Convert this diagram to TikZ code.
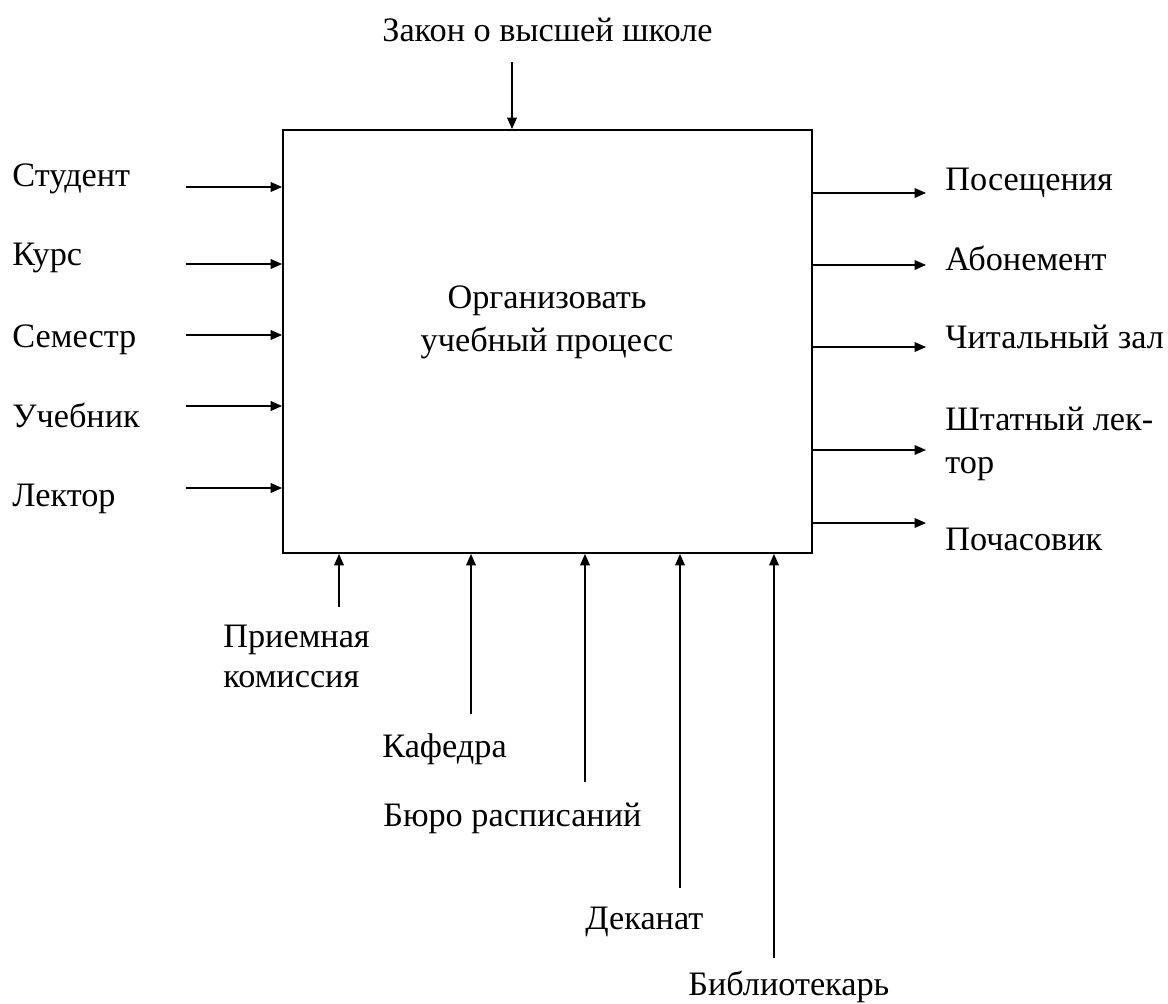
\documentclass[tikz,border=0pt]{standalone}
\usepackage{fontspec}
\setmainfont{Liberation Serif}
\usetikzlibrary{arrows.meta}

\begin{document}
\begin{tikzpicture}[x=0.02cm, y=-0.02cm,
        lbl/.style={anchor=base west, inner sep=0pt, align=left,
            font=\fontsize{19.5}{22.7}\selectfont},
        flow/.style={line width=0.8pt, -{Triangle[length=6.5pt, width=5.5pt]}}]
    \useasboundingbox (0,0) rectangle (1168,1003);

    % main activity block
    \node[draw, line width=1.1pt, minimum width=10.58cm, minimum height=8.46cm,
        inner sep=0pt] (box) at (547.5,341.5) {};
    \node[anchor=base, align=center, inner sep=0pt, font=\fontsize{19.5}{24.4}\selectfont]
        (title) at (547,351) {Организовать\\учебный процесс};

    % control
    \node[lbl] (law) at (382,42) {Закон о высшей школе};
    \coordinate (c1) at (512,62);
    \draw[flow] (c1) -- (c1 |- box.north);

    % inputs
    \node[lbl] (student) at (12,187) {Студент};
    \node[lbl] (course)  at (12,265) {Курс};
    \node[lbl] (term)    at (12,347) {Семестр};
    \node[lbl] (book)    at (12,427) {Учебник};
    \node[lbl] (lector)  at (12,506) {Лектор};
    \coordinate (i1) at (186,187);
    \coordinate (i2) at (186,264);
    \coordinate (i3) at (186,335);
    \coordinate (i4) at (186,406);
    \coordinate (i5) at (186,488);
    \foreach \i in {1,...,5}
        \draw[flow] (i\i) -- (i\i -| box.west);

    % outputs
    \node[lbl] (visits)  at (945,191) {Посещения};
    \node[lbl] (abon)    at (945,271) {Абонемент};
    \node[lbl] (hall)    at (945,348) {Читальный зал};
    \node[lbl, font=\fontsize{19.5}{24.4}\selectfont]
                         (staff)   at (945,473) {Штатный лек-\\тор};
    \node[lbl] (hourly)  at (945,550) {Почасовик};
    \coordinate (o1) at (926,193);
    \coordinate (o2) at (926,265);
    \coordinate (o3) at (926,347);
    \coordinate (o4) at (926,450);
    \coordinate (o5) at (926,523);
    \foreach \i in {1,...,5}
        \draw[flow] (o\i -| box.east) -- (o\i);

    % mechanisms
    \node[lbl] (admit)  at (223,687) {Приемная\\комиссия};
    \node[lbl] (chair)  at (382,757) {Кафедра};
    \node[lbl] (sched)  at (383,826) {Бюро расписаний};
    \node[lbl] (dean)   at (585,929) {Деканат};
    \node[lbl] (librar) at (688,995) {Библиотекарь};
    \coordinate (m1) at (339,607);
    \coordinate (m2) at (471,714);
    \coordinate (m3) at (585,782);
    \coordinate (m4) at (680,888);
    \coordinate (m5) at (774,958);
    \foreach \i in {1,...,5}
        \draw[flow] (m\i) -- (m\i |- box.south);
\end{tikzpicture}
\end{document}
